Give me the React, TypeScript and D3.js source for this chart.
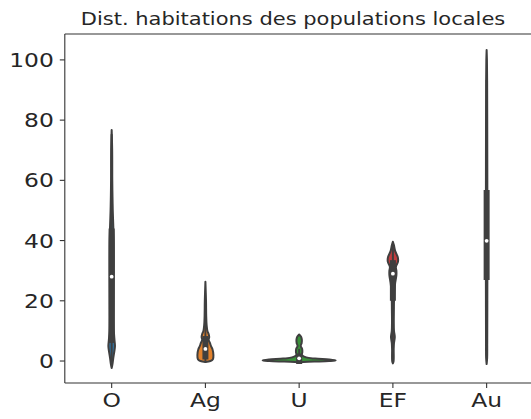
import React from "react";
import * as d3 from "d3";

const categories = ["O", "Ag", "U", "EF", "Au"];
const yTicks = [0, 20, 40, 60, 80, 100];
const title = "Dist. habitations des populations locales";

// violin profiles: [value, relative density]
const profileO: [number, number][] = [
  [-2.3, 0], [-1, 0.8], [1, 1.6], [3, 2.6], [5, 3.3], [7, 2.8], [10, 2.2], [20, 2.1],
  [30, 2.2], [40, 2.1], [45, 1.6], [50, 1.1], [55, 0.8], [60, 0.6], [70, 0.5], [76.7, 0],
];
const profileAg: [number, number][] = [
  [-0.3, 0], [0, 5], [0.6, 7.5], [2, 8], [4, 7], [5, 5.5], [6, 4.5], [7, 3.2], [8, 3.8],
  [9, 3.2], [10, 2], [12, 1.2], [15, 0.8], [20, 0.6], [26.3, 0],
];
const profileU: [number, number][] = [
  [-0.4, 0], [-0.2, 15], [0, 30], [0.2, 36.5], [0.5, 30], [0.8, 16], [1.2, 7], [2, 2.8],
  [3, 3.2], [4, 3], [5, 1.6], [6, 2.5], [7, 2.7], [8, 2], [8.8, 0],
];
const profileEF: [number, number][] = [
  [-0.8, 0], [0, 0.7], [4, 0.8], [6, 1.1], [8, 1.9], [10, 1.1], [13, 0.9], [17, 1], [20, 1.1],
  [23, 1.4], [26, 2.3], [28.5, 3.5], [30, 3.5], [31.3, 3], [33, 5.1], [34.5, 4.9],
  [36.5, 2.3], [38.5, 1], [39.6, 0],
];
const profileAu: [number, number][] = [
  [-1, 0], [1, 0.5], [6, 0.6], [20, 0.7], [40, 0.8], [60, 0.7], [80, 0.6], [93, 0.5],
  [100, 0.3], [103.3, 0],
];
const profiles = [profileO, profileAg, profileU, profileEF, profileAu];

// inner box statistics
const q1s = [7, 1.5, 0, 21, 27.9];
const medians = [28, 4, 0.9, 29, 39.9];
const q3s = [43, 7.3, 1.5, 32.5, 55.8];
const whiskerLows = [0, -0.2, 0, 4, 6];
const whiskerHighs = [75, 16, 3.7, 39, 93];

const palette = ["#3274a1", "#e1812c", "#3a923a", "#c03d3e", "#9372b2"];
const gray = "#3f3f3f";
const textColor = "#262626";

export default function App() {
  const W = 531, H = 419;
  const left = 64.8, right = 533.5, top = 34, bottom = 383;
  const x = d3.scalePoint<string>().domain(categories).range([left, right]).padding(0.5);
  const step = x.step();
  const y = d3.scaleLinear().domain([-7.3, 108.6]).range([bottom, top]);
  const wScale = d3.scaleLinear().domain([0, 37.5]).range([0, step * 0.4]);

  return (
    <svg width={W} height={H} style={{ position: "absolute", left: 0, top: 0, fontFamily: "DejaVu Sans" }}>
      <text transform="translate(293,25) scale(1.2,1)" textAnchor="middle" fontSize={17.5} fill={textColor}>{title}</text>
      {categories.map((c, i) => {
        const cx = x(c)!;
        const area = d3.area<[number, number]>()
          .y((d) => y(d[0]))
          .x0((d) => cx - wScale(d[1]))
          .x1((d) => cx + wScale(d[1]))
          .curve(d3.curveCatmullRom);
        return (
          <g key={c}>
            <path d={area(profiles[i]) || ""} fill={palette[i]} stroke={gray} strokeWidth={2} strokeLinejoin="round" />
            <line x1={cx} x2={cx} y1={y(whiskerLows[i])} y2={y(whiskerHighs[i])} stroke={gray} strokeWidth={2} strokeLinecap="square" />
            <line x1={cx} x2={cx} y1={y(q1s[i])} y2={y(q3s[i])} stroke={gray} strokeWidth={6} strokeLinecap="square" />
            <circle cx={cx} cy={y(medians[i])} r={1.9} fill="white" />
          </g>
        );
      })}
      {/* spines */}
      <g stroke="#333" strokeWidth={1.1} fill="none">
        <line x1={left} x2={left} y1={top} y2={bottom} />
        <line x1={left} x2={right} y1={bottom} y2={bottom} />
        <line x1={left} x2={right} y1={top} y2={top} />
        <line x1={right} x2={right} y1={top} y2={bottom} />
      </g>
      {yTicks.map((t) => (
        <g key={t}>
          <line x1={left - 5} x2={left} y1={y(t)} y2={y(t)} stroke="#333" strokeWidth={1.1} />
          <text transform={`translate(${left - 11},${y(t)}) scale(1.2,1)`} dy="0.36em" textAnchor="end" fontSize={19.5} fill={textColor}>{t}</text>
        </g>
      ))}
      {categories.map((c) => (
        <g key={c}>
          <line x1={x(c)!} x2={x(c)!} y1={bottom} y2={bottom + 5} stroke="#333" strokeWidth={1.1} />
          <text transform={`translate(${x(c)!},${bottom + 24}) scale(1.2,1)`} textAnchor="middle" fontSize={19.5} fill={textColor}>{c}</text>
        </g>
      ))}
    </svg>
  );
}
